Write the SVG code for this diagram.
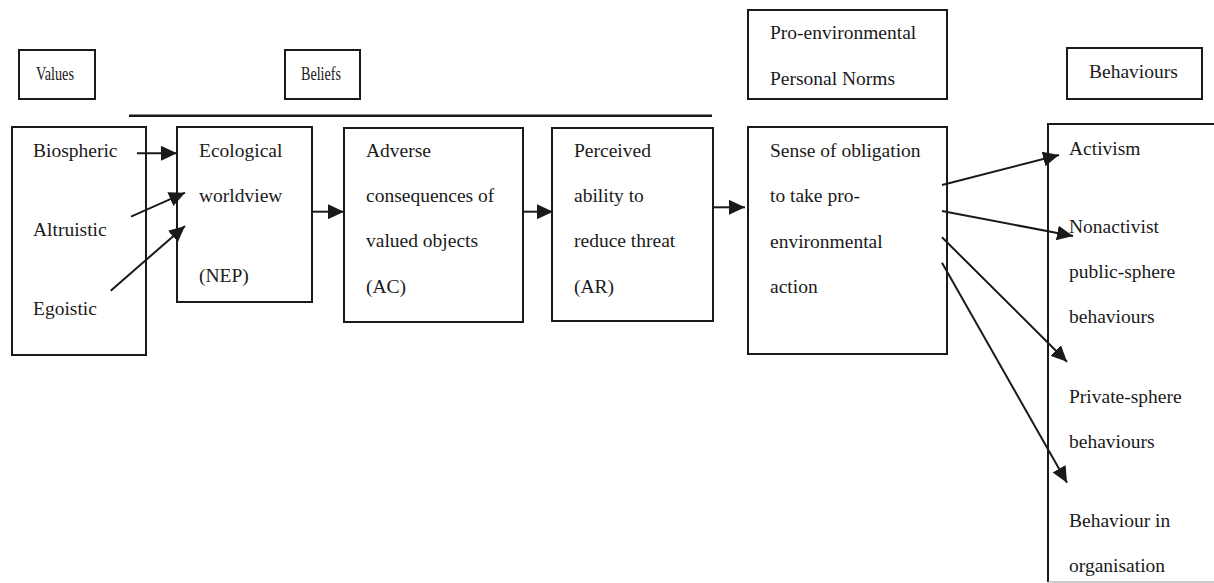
<svg xmlns="http://www.w3.org/2000/svg" width="1214" height="583" viewBox="0 0 1214 583">
<style>
.box{fill:#fff;stroke:#1a1a1a;stroke-width:2}
.t{font-family:"Liberation Serif","Times New Roman",serif;font-size:19.5px;fill:#1a1a1a}
.c{stroke:#1a1a1a;stroke-width:2;fill:none}
</style>
<defs>
<marker id="ah" markerWidth="17" markerHeight="15" refX="16" refY="7.5" orient="auto" markerUnits="userSpaceOnUse">
<path d="M0,0 L16,7.5 L0,15 Z" fill="#1a1a1a"/>
</marker>
</defs>
<rect width="1214" height="583" fill="#fff"/>
<g id="values-header"><rect class="box" x="19" y="50" width="76" height="49"/><text class="t" x="36" y="80" textLength="38" lengthAdjust="spacingAndGlyphs">Values</text></g>
<g id="beliefs-header"><rect class="box" x="285" y="50" width="75" height="49"/><text class="t" x="301" y="80" textLength="40" lengthAdjust="spacingAndGlyphs">Beliefs</text></g>
<g id="norms-header"><rect class="box" x="748" y="10" width="199" height="89"/><text class="t" x="770" y="39">Pro-environmental</text><text class="t" x="770" y="85">Personal Norms</text></g>
<g id="behaviours-header"><rect class="box" x="1067" y="48" width="135" height="51"/><text class="t" x="1089" y="78">Behaviours</text></g>
<g id="beliefs-line"><line x1="129" y1="115.7" x2="712" y2="115.7" stroke="#1a1a1a" stroke-width="2.5"/></g>
<g id="values"><rect class="box" x="12" y="127" width="134" height="228"/><text class="t" x="33" y="157">Biospheric</text><text class="t" x="33" y="236">Altruistic</text><text class="t" x="33" y="315">Egoistic</text></g>
<g id="nep"><rect class="box" x="177" y="127" width="135" height="175"/><text class="t" x="199" y="157">Ecological</text><text class="t" x="199" y="202">worldview</text><text class="t" x="199" y="282">(NEP)</text></g>
<g id="ac"><rect class="box" x="344" y="128" width="179" height="194"/><text class="t" x="366" y="157">Adverse</text><text class="t" x="366" y="202">consequences of</text><text class="t" x="366" y="247">valued objects</text><text class="t" x="366" y="293">(AC)</text></g>
<g id="ar"><rect class="box" x="552" y="128" width="161" height="193"/><text class="t" x="574" y="157">Perceived</text><text class="t" x="574" y="202">ability to</text><text class="t" x="574" y="247">reduce threat</text><text class="t" x="574" y="293">(AR)</text></g>
<g id="pn"><rect class="box" x="748" y="127" width="199" height="227"/><text class="t" x="770" y="157">Sense of obligation</text><text class="t" x="770" y="202">to take pro-</text><text class="t" x="770" y="248">environmental</text><text class="t" x="770" y="293">action</text></g>
<g id="behaviours"><path class="c" d="M1216,124 H1048 V582"/><line x1="1048" y1="582" x2="1214" y2="582" stroke="#999" stroke-width="1"/>
<text class="t" x="1069" y="155">Activism</text><text class="t" x="1069" y="233">Nonactivist</text><text class="t" x="1069" y="278">public-sphere</text><text class="t" x="1069" y="323">behaviours</text><text class="t" x="1069" y="403">Private-sphere</text><text class="t" x="1069" y="448">behaviours</text><text class="t" x="1069" y="527">Behaviour in</text><text class="t" x="1069" y="572">organisation</text></g>
<g id="connectors">
<line class="c" x1="137" y1="153.3" x2="177" y2="153.3" marker-end="url(#ah)"/>
<line class="c" x1="131" y1="216.7" x2="185" y2="192.7" marker-end="url(#ah)"/>
<line class="c" x1="110.7" y1="290.7" x2="185" y2="226" marker-end="url(#ah)"/>
<line class="c" x1="313" y1="211.7" x2="344" y2="211.7" marker-end="url(#ah)"/>
<line class="c" x1="523" y1="211.7" x2="553" y2="211.7" marker-end="url(#ah)"/>
<line class="c" x1="713" y1="207.3" x2="745" y2="207.3" marker-end="url(#ah)"/>
<line class="c" x1="942" y1="185" x2="1059" y2="155" marker-end="url(#ah)"/>
<line class="c" x1="942" y1="211" x2="1073" y2="236" marker-end="url(#ah)"/>
<line class="c" x1="942" y1="237.3" x2="1067" y2="361.7" marker-end="url(#ah)"/>
<line class="c" x1="942" y1="262.7" x2="1067" y2="482.7" marker-end="url(#ah)"/>
</g>
</svg>
